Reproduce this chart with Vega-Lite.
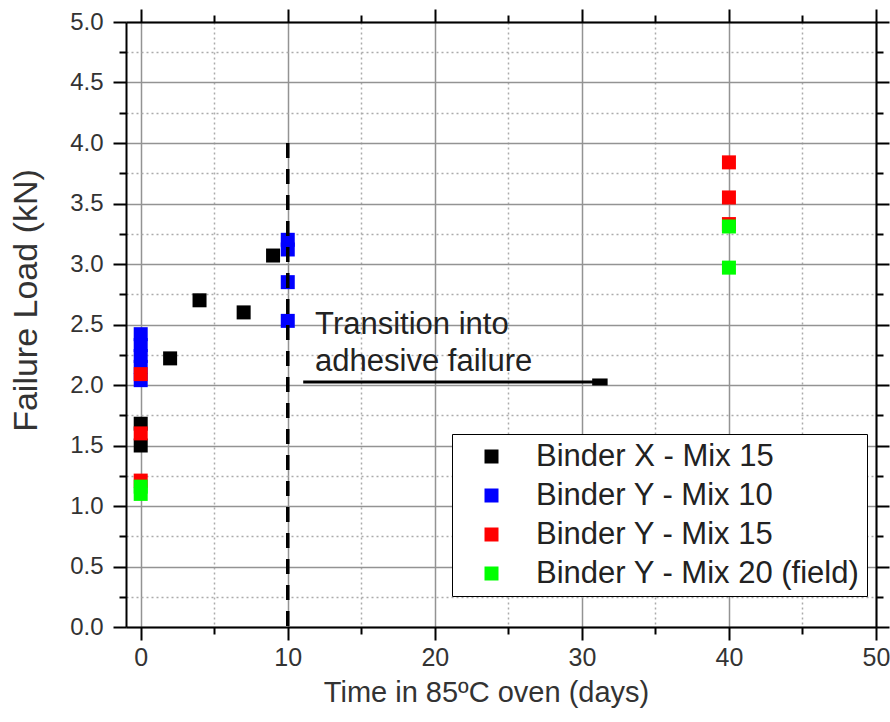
{
  "$schema": "https://vega.github.io/schema/vega-lite/v6.json",
  "width": 750,
  "height": 605,
  "autosize": {"type": "none"},
  "padding": {"left": 126, "top": 22, "right": 14, "bottom": 95},
  "background": "white",
  "config": {
    "view": {"stroke": null},
    "axis": {
      "labelFlush": false,
      "labelOverlap": false,
      "tickColor": "black",
      "tickWidth": 2,
      "domainColor": "black",
      "domainWidth": 2,
      "titleFontWeight": "normal"
    }
  },
  "resolve": {"axis": {"x": "independent", "y": "independent"}},
  "datasets": {
    "points": [
      {"group": "Binder X - Mix 15", "days": 0, "load": 1.50},
      {"group": "Binder X - Mix 15", "days": 0, "load": 1.68},
      {"group": "Binder X - Mix 15", "days": 2, "load": 2.22},
      {"group": "Binder X - Mix 15", "days": 4, "load": 2.70},
      {"group": "Binder X - Mix 15", "days": 7, "load": 2.60},
      {"group": "Binder X - Mix 15", "days": 9, "load": 3.07},
      {"group": "Binder Y - Mix 10", "days": 0, "load": 2.42},
      {"group": "Binder Y - Mix 10", "days": 0, "load": 2.33},
      {"group": "Binder Y - Mix 10", "days": 0, "load": 2.24},
      {"group": "Binder Y - Mix 10", "days": 0, "load": 2.15},
      {"group": "Binder Y - Mix 10", "days": 0, "load": 2.04},
      {"group": "Binder Y - Mix 10", "days": 10, "load": 3.20},
      {"group": "Binder Y - Mix 10", "days": 10, "load": 3.12},
      {"group": "Binder Y - Mix 10", "days": 10, "load": 2.85},
      {"group": "Binder Y - Mix 10", "days": 10, "load": 2.53},
      {"group": "Binder Y - Mix 15", "days": 0, "load": 2.09},
      {"group": "Binder Y - Mix 15", "days": 0, "load": 1.60},
      {"group": "Binder Y - Mix 15", "days": 0, "load": 1.21},
      {"group": "Binder Y - Mix 15", "days": 40, "load": 3.84},
      {"group": "Binder Y - Mix 15", "days": 40, "load": 3.55},
      {"group": "Binder Y - Mix 15", "days": 40, "load": 3.33},
      {"group": "Binder Y - Mix 20 (field)", "days": 0, "load": 1.16},
      {"group": "Binder Y - Mix 20 (field)", "days": 0, "load": 1.10},
      {"group": "Binder Y - Mix 20 (field)", "days": 40, "load": 3.31},
      {"group": "Binder Y - Mix 20 (field)", "days": 40, "load": 2.97}
    ]
  },
  "layer": [
    {
      "data": {"name": "points"},
      "mark": {"type": "point", "shape": "square", "filled": true, "size": 196, "opacity": 1, "strokeWidth": 0},
      "encoding": {
        "x": {
          "field": "days", "type": "quantitative",
          "scale": {"domain": [-1, 50], "nice": false, "zero": false},
          "axis": {
            "orient": "bottom",
            "values": [0, 10, 20, 30, 40, 50],
            "tickSize": 13,
            "grid": true, "gridColor": "#939393", "gridWidth": 1.5,
            "labelFont": "Liberation Sans, Arial",
            "labelFontSize": 25, "labelColor": "#333333", "labelPadding": 5,
            "title": "Time in 85ºC oven (days)",
            "titleFont": "Liberation Sans, Arial",
            "titleFontSize": 29, "titleColor": "#333333",
            "titleX": 360, "titleY": 74, "titleBaseline": "alphabetic", "titleAlign": "center"
          }
        },
        "y": {
          "field": "load", "type": "quantitative",
          "scale": {"domain": [0, 5], "nice": false, "zero": false},
          "axis": {
            "orient": "left",
            "values": [0, 0.5, 1, 1.5, 2, 2.5, 3, 3.5, 4, 4.5, 5],
            "format": ".1f",
            "tickSize": 13,
            "grid": true, "gridColor": "#939393", "gridWidth": 1.5,
            "labelFont": "Liberation Sans, Arial",
            "labelFontSize": 24, "labelColor": "#333333", "labelPadding": 10,
            "title": "Failure Load (kN)",
            "titleFont": "Liberation Sans, Arial",
            "titleFontSize": 34, "titleColor": "#333333",
            "titleAngle": -90, "titleX": -90, "titleY": 278,
            "titleBaseline": "alphabetic", "titleAlign": "center"
          }
        },
        "color": {
          "field": "group", "type": "nominal",
          "scale": {
            "domain": ["Binder X - Mix 15", "Binder Y - Mix 10", "Binder Y - Mix 15", "Binder Y - Mix 20 (field)"],
            "range": ["#000000", "#0000ff", "#ff0000", "#00ff00"]
          },
          "legend": {
            "orient": "none", "legendX": 326, "legendY": 412,
            "title": null,
            "fillColor": "white", "strokeColor": "black",
            "padding": 7, "cornerRadius": 0,
            "symbolType": "square", "symbolSize": 196, "symbolStrokeWidth": 0, "symbolOffset": 17,
            "labelFont": "Liberation Sans, Arial", "labelFontSize": 31, "labelColor": "#222222",
            "labelOffset": 29, "rowPadding": 7, "labelLimit": 500
          }
        }
      }
    },
    {
      "data": {"values": [{"xa": 10, "ytop": 4.0, "ybot": 0}]},
      "mark": {"type": "rule", "color": "black", "strokeWidth": 3.5, "strokeDash": [15, 11], "strokeCap": "butt"},
      "encoding": {
        "x": {
          "field": "xa", "type": "quantitative",
          "scale": {"domain": [-1, 50], "nice": false, "zero": false},
          "axis": {
            "orient": "bottom", "values": [5, 15, 25, 35, 45],
            "tickSize": 7, "grid": true, "gridColor": "#ababab", "gridWidth": 1.5, "gridDash": [2, 3],
            "labels": false, "domain": false, "title": null
          }
        },
        "y": {
          "field": "ytop", "type": "quantitative",
          "scale": {"domain": [0, 5], "nice": false, "zero": false},
          "axis": {
            "orient": "left", "values": [0.25, 0.75, 1.25, 1.75, 2.25, 2.75, 3.25, 3.75, 4.25, 4.75],
            "tickSize": 7, "grid": true, "gridColor": "#ababab", "gridWidth": 1.5, "gridDash": [2, 3],
            "labels": false, "domain": false, "title": null
          }
        },
        "y2": {"field": "ybot"}
      }
    },
    {
      "data": {"values": [{"xs": 11.05, "xe": 31.0, "yv": 2.025}]},
      "mark": {"type": "rule", "color": "black", "strokeWidth": 3, "strokeCap": "butt"},
      "encoding": {
        "x": {
          "field": "xs", "type": "quantitative",
          "scale": {"domain": [-1, 50], "nice": false, "zero": false},
          "axis": {
            "orient": "top", "values": [0, 10, 20, 30, 40, 50],
            "tickSize": 13, "grid": false, "labels": false, "domain": true, "title": null, "zindex": 1
          }
        },
        "x2": {"field": "xe"},
        "y": {
          "field": "yv", "type": "quantitative",
          "scale": {"domain": [0, 5], "nice": false, "zero": false},
          "axis": {
            "orient": "right", "values": [0, 0.5, 1, 1.5, 2, 2.5, 3, 3.5, 4, 4.5, 5],
            "tickSize": 13, "grid": false, "labels": false, "domain": true, "title": null, "zindex": 1
          }
        }
      }
    },
    {
      "data": {"values": [{"xs": 30.7, "xe": 31.75, "yv": 2.025}]},
      "mark": {"type": "rule", "color": "black", "strokeWidth": 7, "strokeCap": "butt"},
      "encoding": {
        "x": {
          "field": "xs", "type": "quantitative",
          "scale": {"domain": [-1, 50], "nice": false, "zero": false},
          "axis": {
            "orient": "top", "values": [5, 15, 25, 35, 45],
            "tickSize": 7, "grid": false, "labels": false, "domain": false, "title": null, "zindex": 1
          }
        },
        "x2": {"field": "xe"},
        "y": {
          "field": "yv", "type": "quantitative",
          "scale": {"domain": [0, 5], "nice": false, "zero": false},
          "axis": {
            "orient": "right", "values": [0.25, 0.75, 1.25, 1.75, 2.25, 2.75, 3.25, 3.75, 4.25, 4.75],
            "tickSize": 7, "grid": false, "labels": false, "domain": false, "title": null, "zindex": 1
          }
        }
      }
    },
    {
      "data": {"values": [
        {"xt": 11.86, "yt": 2.42, "label": "Transition into"},
        {"xt": 11.86, "yt": 2.116, "label": "adhesive failure"}
      ]},
      "mark": {"type": "text", "align": "left", "baseline": "alphabetic", "font": "Liberation Sans, Arial", "fontSize": 31, "color": "#222222"},
      "encoding": {
        "x": {"field": "xt", "type": "quantitative", "scale": {"domain": [-1, 50], "nice": false, "zero": false}, "axis": null},
        "y": {"field": "yt", "type": "quantitative", "scale": {"domain": [0, 5], "nice": false, "zero": false}, "axis": null},
        "text": {"field": "label"}
      }
    }
  ]
}
